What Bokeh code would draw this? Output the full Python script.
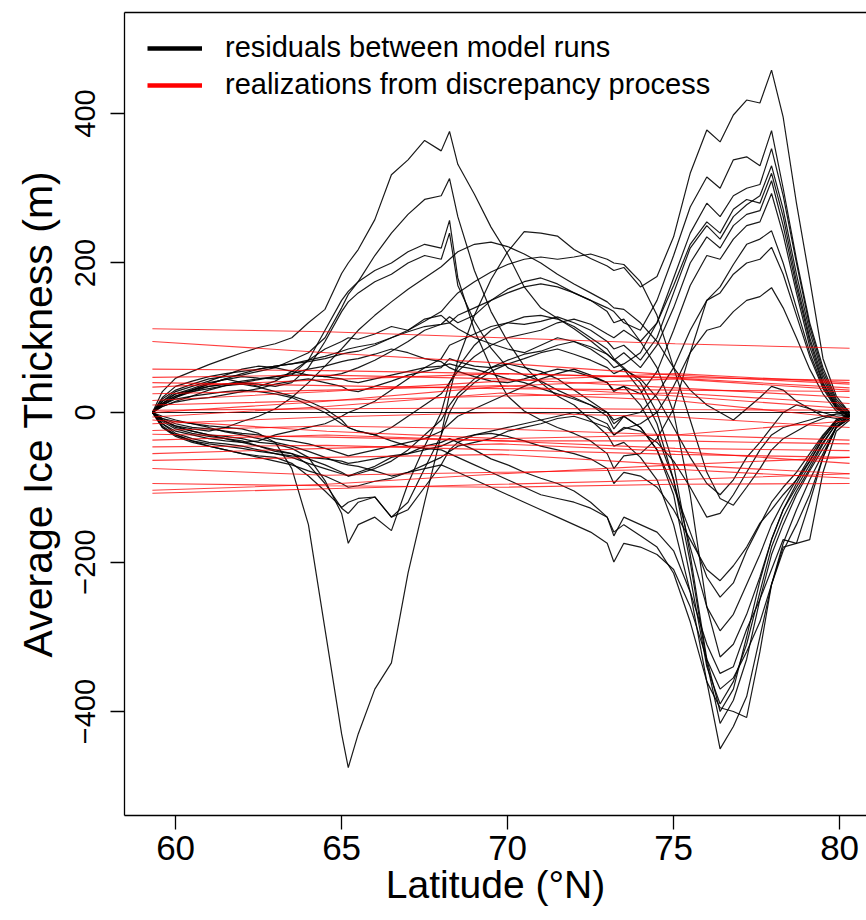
from bokeh.plotting import figure
from bokeh.models import Range1d, FixedTicker, Legend, LegendItem, LinearAxis
from bokeh.embed import file_html
from bokeh.resources import INLINE

# ---------------- data ----------------
lat = [59.3, 59.6, 60.0, 60.5, 61.0, 61.5, 62.0, 62.5, 63.0, 63.5,
       64.0, 64.5, 65.0, 65.2, 65.5, 66.0, 66.5, 67.0, 67.5, 68.0,
       68.25, 68.5, 69.0, 69.5, 70.0, 70.5, 71.0, 71.5, 72.0, 72.5,
       73.0, 73.2, 73.5, 74.0, 74.5, 75.0, 75.5, 76.0, 76.4, 76.8,
       77.2, 77.6, 77.95, 78.3, 78.7, 79.1, 79.5, 79.9, 80.3]

run_p1 = [0, -8, -12, -15, -18, -20, -22, -28, -40, -75,
          -150, -290, -430, -475, -430, -370, -335, -215, -120, -30,
          25, 70, 130, 178, 215, 242, 240, 236, 218, 206,
          196, 190, 194, 168, 182, 235, 320, 378, 362, 398,
          418, 414, 458, 395, 280, 178, 72, 22, 0]
run_p2 = [0, 15, 28, 35, 42, 50, 58, 62, 60, 55,
          50, 48, 52, 55, 60, 70, 82, 95, 110, 118,
          128, 120, 130, 150, 165, 175, 180, 172, 160, 150,
          140, 135, 120, 110, 150, 210, 275, 315, 300, 338,
          342, 330, 377, 300, 205, 120, 60, 18, 0]
run_p3 = [0, 10, 20, 30, 38, 45, 40, 35, 42, 55,
          70, 85, 95, 100, 98, 105, 115, 110, 125, 130,
          120, 112, 100, 92, 85, 80, 90, 100, 95, 85,
          70, 60, 65, 80, 120, 180, 240, 280, 262, 290,
          300, 305, 353, 290, 200, 115, 55, 15, -2]
run_p4 = [0, -10, -18, -25, -30, -35, -40, -38, -30, -25,
          -20, -15, -5, 0, 5, 15, 30, 45, 60, 72,
          90, 95, 105, 115, 120, 118, 122, 128, 120, 110,
          95, 85, 90, 70, 100, 160, 220, 250, 232, 262,
          278, 290, 330, 272, 185, 108, 50, 12, -3]
run_p5 = [0, 12, 22, 28, 32, 36, 38, 34, 28, 22,
          15, 5, -10, -20, -25, -30, -20, -5, 10, 25,
          40, 55, 75, 90, 100, 105, 110, 120, 125, 118,
          105, 100, 110, 95, 120, 170, 225, 255, 240, 272,
          285, 280, 320, 262, 175, 100, 45, 10, -5]
run_p6 = [0, -12, -22, -28, -32, -35, -38, -45, -52, -55,
          -62, -70, -80, -85, -82, -75, -65, -50, -30, -10,
          10, 25, 45, 60, 70, 78, 82, 90, 95, 88,
          78, 70, 80, 60, 90, 140, 200, 235, 220, 250,
          265, 270, 310, 250, 168, 95, 40, 8, -6]
run_p7 = [0, 8, 15, 22, 30, 36, 40, 44, 48, 52,
          58, 62, 68, 70, 72, 78, 85, 80, 72, 68,
          60, 55, 48, 42, 40, 45, 52, 58, 55, 48,
          40, 28, 35, 25, 55, 110, 170, 210, 205, 232,
          250, 255, 293, 238, 160, 88, 38, 8, -5]
run_p8 = [0, 12, 25, 32, 40, 44, 48, 46, 45, 50,
          70, 110, 150, 162, 175, 190, 200, 215, 225, 220,
          257, 180, 110, 60, 22, 2, -10, -20, -28, -38,
          -55, -75, -58, -55, -35, 5, 80, 150, 168, 198,
          225, 232, 243, 200, 140, 80, 35, 6, -5]
run_p9 = [0, 10, 20, 28, 35, 38, 40, 38, 35, 40,
          60, 95, 135, 148, 160, 175, 185, 200, 210, 205,
          240, 170, 122, 86, 60, 50, 42, 30, 20, 10,
          -5, -22, -5, 0, 25, 60, 110, 150, 160, 185,
          200, 205, 221, 185, 130, 75, 32, 5, -6]
run_p10 = [0, -5, -10, -15, -20, -26, -30, -35, -40, -45,
           -52, -60, -68, -70, -72, -78, -85, -80, -70, -60,
           -52, -45, -40, -35, -25, -20, -15, -8, -5, -12,
           -20, -30, -22, -15, 0, 35, 80, 110, 115, 135,
           150, 155, 167, 140, 100, 58, 25, 2, -8]
run_n1 = [0, 18, 30, 38, 45, 48, 50, 55, 60, 70,
          80, 100, 140, 158, 175, 210, 240, 265, 285, 290,
          313, 262, 190, 135, 95, 62, 40, 22, 10, -10,
          -30, -45, -40, -60, -90, -150, -240, -360, -450, -420,
          -380, -300, -230, -175, -130, -90, -55, -20, -8]
run_n2 = [0, 28, 46, 55, 64, 72, 80, 87, 92, 100,
          120, 138, 186, 200, 218, 258, 318, 338, 364, 350,
          376, 332, 292, 248, 212, 168, 140, 126, 112, 96,
          78, 70, 58, 30, -15, -90, -200, -335, -416, -385,
          -330, -250, -190, -150, -110, -78, -48, -20, -5]
run_n3 = [0, -15, -28, -35, -40, -42, -45, -50, -55, -60,
          -68, -75, -82, -85, -80, -72, -60, -55, -45, -40,
          -35, -40, -50, -62, -70, -80, -88, -95, -105, -120,
          -140, -160, -150, -165, -180, -215, -280, -360, -395, -400,
          -408, -320, -230, -180, -175, -170, -80, -25, -10]
run_n4 = [0, -10, -20, -25, -30, -32, -35, -40, -42, -48,
          -60, -91, -135, -175, -150, -140, -158, -95, -45, 0,
          40, 60, 90, 110, 120, 128, 130, 125, 115, 100,
          85, 72, 60, 40, 0, -70, -190, -330, -400, -370,
          -300, -225, -170, -130, -100, -70, -40, -15, -5]
run_n5 = [0, -15, -25, -30, -35, -38, -40, -45, -50, -55,
          -70, -95, -128, -135, -120, -113, -140, -120, -75, -30,
          0, 20, 40, 55, 65, 60, 55, 45, 30, 15,
          0, -10, -5, -20, -50, -110, -220, -340, -390, -360,
          -310, -240, -180, -140, -105, -75, -42, -15, -5]
run_n6 = [0, -20, -30, -38, -45, -50, -55, -60, -65, -70,
          -78, -85, -95, -100, -98, -92, -88, -80, -75, -70,
          -75, -80, -90, -100, -110, -120, -130, -140, -150, -160,
          -175, -200, -175, -180, -190, -210, -260, -330, -370, -355,
          -320, -280, -230, -185, -150, -110, -60, -20, -8]
run_n7 = [0, 10, 18, 22, 25, 28, 30, 28, 25, 20,
          10, 0, -15, -20, -25, -30, -38, -45, -48, -50,
          -55, -60, -70, -80, -90, -100, -110, -115, -120, -128,
          -140, -165, -140, -150, -160, -185, -240, -310, -349, -340,
          -290, -250, -210, -170, -175, -120, -60, -18, -5]
run_n8 = [0, 20, 35, 42, 48, 52, 55, 58, 62, 65,
          70, 75, 82, 85, 88, 92, 100, 108, 115, 118,
          120, 130, 140, 150, 160, 168, 172, 168, 160, 150,
          135, 120, 125, 95, 60, 0, -110, -260, -327, -310,
          -270, -220, -170, -130, -95, -65, -35, -12, -4]
run_n9 = [0, -8, -15, -20, -22, -25, -28, -30, -35, -38,
          -42, -48, -55, -58, -55, -50, -45, -40, -35, -25,
          -15, -5, 5, 15, 25, 35, 45, 52, 58, 50,
          40, 30, 35, 10, -30, -90, -180, -260, -292, -270,
          -230, -190, -150, -120, -90, -60, -32, -10, -3]
run_n10 = [0, 15, 25, 30, 35, 38, 42, 45, 48, 50,
           50, 48, 45, 42, 40, 45, 50, 55, 60, 62,
           65, 62, 58, 52, 45, 40, 32, 25, 18, 10,
           0, -15, -5, -20, -50, -100, -160, -220, -247, -228,
           -185, -150, -120, -100, -80, -55, -30, -10, -2]
run_n11 = [0, -18, -30, -38, -42, -45, -48, -52, -55, -58,
           -60, -62, -65, -68, -66, -62, -58, -55, -50, -45,
           -40, -35, -30, -28, -32, -38, -45, -50, -55, -62,
           -75, -95, -80, -85, -100, -130, -170, -210, -225, -205,
           -180, -148, -130, -110, -90, -65, -35, -12, -4]
run_z0 = [0] * 49
run_z1 = [0, 12, 22, 30, 38, 45, 52, 58, 62, 65,
          68, 72, 78, 80, 82, 90, 100, 110, 122, 135,
          148, 160, 175, 188, 198, 205, 208, 205, 208, 212,
          205, 200, 198, 175, 130, 60, -10, -80, -115, -124,
          -100, -75, -50, -35, -25, -15, -8, -2, 0]
run_z2 = [0, -10, -18, -22, -25, -20, -12, -5, 5, 20,
          40, 62, 85, 95, 110, 130, 148, 165, 180, 195,
          205, 215, 225, 228, 222, 212, 200, 185, 172, 160,
          148, 140, 138, 120, 95, 60, 30, 10, 0, -10,
          5, 20, 35, 30, 15, 5, -5, -8, -5]
run_z3 = [0, 8, 14, 18, 20, 24, 28, 32, 38, 42,
          45, 40, 35, 30, 28, 35, 42, 50, 55, 60,
          72, 68, 62, 60, 65, 72, 80, 85, 78, 70,
          60, 52, 58, 45, 20, -20, -60, -95, -110, -90,
          -60, -40, -20, 0, 10, 5, 0, -5, -3]
run_z4 = [0, -20, -32, -40, -45, -50, -55, -58, -60, -68,
          -85, -105, -127, -120, -115, -113, -140, -130, -100, -70,
          -50, -40, -30, -25, -20, -15, -10, -5, 0, -5,
          -15, -30, -20, -25, -40, -65, -100, -140, -135, -110,
          -80, -50, -30, -20, -15, -10, -5, -2, -2]

residual_runs = [run_z0, run_p1, run_p2, run_p3, run_p4, run_p5, run_p6, run_p7,
                 run_p8, run_p9, run_p10, run_n1, run_n2, run_n3, run_n4, run_n5,
                 run_n6, run_n7, run_n8, run_n9, run_n10, run_n11, run_z1, run_z2,
                 run_z3, run_z4]

disc_lat = [59.3, 64.55, 69.8, 75.05, 80.3]
discrepancy_realizations = [
    [112, 108, 100, 92, 86],
    [95, 80, 66, 50, 38],
    [58, 56, 52, 47, 43],
    [47, 50, 45, 33, 20],
    [40, 36, 32, 30, 28],
    [34, 44, 52, 46, 33],
    [25, 30, 36, 22, 5],
    [16, 28, 42, 52, 40],
    [10, 16, 22, 26, 12],
    [3, 5, 6, 4, 3],
    [-6, 8, 26, 16, -8],
    [-15, -6, 0, -6, -20],
    [-24, -18, -22, -30, -37],
    [-29, -33, -38, -38, -42],
    [-37, -30, -38, -48, -51],
    [-46, -44, -50, -56, -60],
    [-55, -48, -42, -52, -68],
    [-64, -60, -56, -70, -82],
    [-75, -84, -80, -76, -88],
    [-95, -98, -100, -96, -95],
    [-104, -96, -82, -70, -60],
    [-108, -102, -96, -90, -82],
    [0, 15, 35, 45, 30],
    [-10, -25, -35, -30, -11],
]

x_ticks = [60, 65, 70, 75, 80]
y_ticks = [-400, -200, 0, 200, 400]
legend_labels = ["residuals between model runs", "realizations from discrepancy process"]
x_title = "Latitude (°N)"
y_title = "Average Ice Thickness (m)"

FONT = "Liberation Sans"

# ---------------- figure ----------------
p = figure(width=866, height=920,
           x_range=Range1d(58.46, 80.81), y_range=Range1d(-539.1, 535.1),
           output_backend="svg", toolbar_location=None,
           min_border_left=124, min_border_right=0, min_border_top=12, min_border_bottom=105,
           x_axis_label=x_title, y_axis_label=y_title)
p.outline_line_color = None
p.background_fill_color = "white"
p.border_fill_color = "white"
p.xgrid.visible = False
p.ygrid.visible = False

for ax in (p.xaxis[0], p.yaxis[0]):
    ax.axis_line_color = "black"
    ax.axis_line_width = 1.3
    ax.major_tick_line_color = "black"
    ax.major_tick_line_width = 1.3
    ax.major_tick_out = 14
    ax.major_tick_in = 0
    ax.minor_tick_line_color = None
    ax.major_label_text_font = FONT
    ax.major_label_text_color = "black"
    ax.axis_label_text_font = FONT
    ax.axis_label_text_font_style = "normal"
    ax.axis_label_text_color = "black"

p.xaxis.ticker = FixedTicker(ticks=x_ticks)
p.yaxis.ticker = FixedTicker(ticks=y_ticks)
p.xaxis.major_label_text_font_size = "35px"
p.xaxis.major_label_standoff = 6
p.xaxis.axis_label_text_font_size = "39px"
p.xaxis.axis_label_standoff = 0
p.yaxis.major_label_text_font_size = "29px"
p.yaxis.major_label_orientation = "vertical"
p.yaxis.major_label_standoff = 15
p.yaxis.axis_label_text_font_size = "41px"
p.yaxis.axis_label_standoff = 12

top_axis = LinearAxis(ticker=FixedTicker(ticks=[]), major_label_text_font_size="0px",
                      major_tick_out=0, major_tick_in=0, minor_tick_out=0, minor_tick_in=0,
                      axis_line_color="black", axis_line_width=1.3)
p.add_layout(top_axis, "above")

p.multi_line(xs=[lat] * len(residual_runs), ys=residual_runs,
             line_color="black", line_width=1.2, line_alpha=0.9)
p.multi_line(xs=[disc_lat] * len(discrepancy_realizations), ys=discrepancy_realizations,
             line_color="#ff0000", line_width=1.1, line_alpha=0.75)

# legend proxies (kept outside the visible x range)
leg_black = p.line(x=[0, 1], y=[0, 0], line_color="black", line_width=4.5)
leg_red = p.line(x=[0, 1], y=[0, 0], line_color="#ff0000", line_width=4.5)

legend = Legend(items=[LegendItem(label=legend_labels[0], renderers=[leg_black]),
                       LegendItem(label=legend_labels[1], renderers=[leg_red])],
                location=(23, 714), padding=0, margin=0, spacing=4,
                glyph_width=55, glyph_height=30, label_standoff=23, label_height=30,
                label_text_font=FONT, label_text_font_size="29px", label_text_color="black",
                border_line_alpha=0, background_fill_alpha=0)
p.add_layout(legend)

open("out.html", "w").write(file_html(p, INLINE))
